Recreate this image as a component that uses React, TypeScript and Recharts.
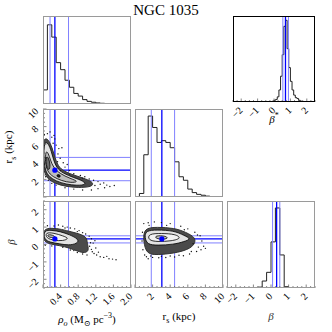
import React from 'react';
import { ComposedChart, Line, Scatter, XAxis, YAxis, ReferenceLine } from 'recharts';

const SERIF = '"Liberation Serif", "DejaVu Serif", serif';
const DARK_BLUE = '#0000ff';
const LIGHT_BLUE = '#8080ff';

// ---------- 1D histograms ----------
const RHO_EDGES = [0, 0.1, 0.2, 0.3, 0.4, 0.5, 0.6, 0.7, 0.8, 0.9, 1.0, 1.1, 1.2, 1.3, 1.4, 1.5, 1.6, 1.7, 1.8, 1.9, 2.0];
const RHO_HIST = [0.16, 0.9, 0.76, 0.47, 0.39, 0.27, 0.19, 0.12, 0.09, 0.05, 0.03, 0.02, 0.012, 0.008, 0.005, 0.003, 0.002, 0.001, 0, 0];
const RS_EDGES = [0, 0.5, 1, 1.5, 2, 2.5, 3, 3.5, 4, 4.5, 5, 5.5, 6, 6.5, 7, 7.5, 8, 8.5, 9, 9.5, 10];
const RS_HIST = [0, 0.04, 0.48, 0.92, 0.79, 0.62, 0.64, 0.62, 0.56, 0.4, 0.23, 0.19, 0.09, 0.05, 0.03, 0.02, 0.01, 0, 0, 0];
const BETA_EDGES = [-2.5, -2.25, -2, -1.75, -1.5, -1.25, -1, -0.75, -0.5, -0.25, 0, 0.25, 0.5, 0.75, 1, 1.25, 1.5, 1.75, 2, 2.25, 2.5];
const BETA_HIST = [0, 0, 0, 0, 0, 0, 0, 0.01, 0.08, 0.18, 0.53, 0.92, 0.38, 0.015, 0, 0, 0, 0, 0, 0];
const BSTAR_EDGES = [-0.1, 0, 0.1, 0.2, 0.3, 0.4, 0.5, 0.6, 0.7, 0.8, 0.9, 1.0, 1.1, 1.2, 1.3, 1.4, 1.5, 1.6, 1.7, 1.8];
const BSTAR_HIST = [0.01, 0.02, 0.03, 0.06, 0.14, 0.3, 0.55, 0.88, 0.95, 0.62, 0.4, 0.24, 0.14, 0.08, 0.05, 0.04, 0.02, 0.01, 0.005];

// quantiles [16%, 50%, 84%]
const RHO_Q = [0.16, 0.27, 0.58];
const RS_Q = [1.85, 3.05, 4.5];
const BETA_Q = [0.09, 0.32, 0.5];
const BSTAR_Q = [0.54, 0.7, 0.88];

// ---------- ticks ----------
const RHO_TICKS = [0, 0.1, 0.2, 0.3, 0.4, 0.5, 0.6, 0.7, 0.8, 0.9, 1.0, 1.1, 1.2, 1.3, 1.4, 1.5, 1.6, 1.7, 1.8, 1.9, 2.0];
const RHO_MAJOR = [0, 0.4, 0.8, 1.2, 1.6, 2.0];
const RHO_LABELS: [number, string][] = [[0.4, '0.4'], [0.8, '0.8'], [1.2, '1.2'], [1.6, '1.6'], [2.0, '2.0']];
const RS_TICKS = [0, 0.5, 1, 1.5, 2, 2.5, 3, 3.5, 4, 4.5, 5, 5.5, 6, 6.5, 7, 7.5, 8, 8.5, 9, 9.5, 10];
const RS_MAJOR = [0, 2, 4, 6, 8, 10];
const RS_LABELS: [number, string][] = [[2, '2'], [4, '4'], [6, '6'], [8, '8'], [10, '10']];
const BETA_TICKS = [-2.5, -2.25, -2, -1.75, -1.5, -1.25, -1, -0.75, -0.5, -0.25, 0, 0.25, 0.5, 0.75, 1, 1.25, 1.5, 1.75, 2, 2.25, 2.5];
const BETA_MAJOR = [-2, -1, 0, 1, 2];
const BETA_LABELS: [number, string][] = [[-2, '\u22122'], [-1, '\u22121'], [0, '0'], [1, '1'], [2, '2']];

// ---------- 2D panels (contours & outlying samples) ----------
const A_HALO: [number, number][] = [[0.02, 6.7], [0.12, 6.6], [0.21, 5.6], [0.27, 4.5], [0.34, 3.5], [0.48, 2.9], [0.72, 2.45], [0.98, 2.05], [1.15, 1.65], [1.12, 1.15], [0.8, 1.05], [0.5, 1.2], [0.27, 1.55], [0.1, 2.05], [0.02, 2.9], [0.0, 4.2], [0.0, 5.6]];
const A_C1: [number, number][] = [[0.04, 6.3], [0.12, 6.1], [0.19, 5.2], [0.24, 4.2], [0.31, 3.3], [0.45, 2.7], [0.7, 2.2], [0.93, 1.8], [0.98, 1.4], [0.78, 1.3], [0.52, 1.45], [0.3, 1.8], [0.14, 2.3], [0.05, 3.0], [0.02, 4.2], [0.02, 5.3]];
const A_C2: [number, number][] = [[0.06, 5.3], [0.12, 5.0], [0.17, 4.2], [0.23, 3.4], [0.38, 2.65], [0.62, 2.1], [0.82, 1.75], [0.64, 1.6], [0.42, 1.85], [0.22, 2.3], [0.1, 2.9], [0.05, 3.9]];
const A_C3: [number, number][] = [[0.08, 4.7], [0.13, 4.4], [0.17, 3.6], [0.14, 3.0], [0.09, 3.3], [0.06, 4.0]];
const A_C4: [number, number][] = [[0.32, 2.6], [0.4, 2.5], [0.39, 2.2], [0.31, 2.3]];
const A_PTS: [number, number][] = [[0.03, 7.1], [0.1, 7.2], [0.16, 7.4], [0.2, 6.8], [0.27, 6.6], [0.3, 5.9], [0.36, 5.5], [0.43, 5.6], [0.34, 4.9], [0.39, 4.4], [0.46, 3.9], [0.5, 3.4], [0.6, 3.0], [0.7, 2.65], [0.85, 2.45], [0.95, 2.3], [1.05, 2.05], [1.15, 1.9], [1.25, 1.75], [1.3, 1.45], [1.38, 1.6], [1.45, 1.35], [1.52, 1.2], [1.62, 1.3], [1.4, 1.05], [1.25, 0.95], [1.1, 0.8], [0.9, 0.8], [0.7, 0.9], [0.5, 1.05], [0.3, 1.35], [0.12, 1.9], [0.55, 3.7], [0.25, 7.0], [0.4, 3.0], [0.6, 2.6], [0.9, 2.15], [1.18, 1.3], [0.2, 1.55], [0.06, 2.3], [0.23, 6.1], [0.33, 4.0]];

const B_HALO: [number, number][] = [[0.0, 0.9], [0.2, 0.95], [0.42, 0.88], [0.65, 0.72], [0.85, 0.6], [1.0, 0.4], [1.0, 0.1], [1.05, -0.35], [0.95, -0.5], [0.8, -0.4], [0.6, -0.2], [0.38, -0.06], [0.15, 0.02], [0.0, 0.2]];
const B_C1: [number, number][] = [[0.02, 0.82], [0.2, 0.82], [0.4, 0.74], [0.6, 0.57], [0.82, 0.3], [0.78, 0.05], [0.58, -0.05], [0.38, 0.04], [0.16, 0.12], [0.02, 0.3]];
const B_C2: [number, number][] = [[0.05, 0.7], [0.25, 0.66], [0.45, 0.5], [0.6, 0.35], [0.45, 0.2], [0.25, 0.24], [0.08, 0.35]];
const B_C3: [number, number][] = [[0.08, 0.58], [0.22, 0.55], [0.3, 0.42], [0.14, 0.38]];
const B_PTS: [number, number][] = [[0.1, 1.08], [0.25, 1.06], [0.35, 1.12], [0.45, 1.05], [0.55, 1.0], [0.62, 0.95], [0.72, 0.9], [0.82, 0.8], [0.9, 0.68], [0.97, 0.6], [1.05, 0.48], [1.1, 0.33], [1.18, 0.22], [1.14, 0.08], [1.06, -0.1], [1.1, -0.28], [1.0, -0.6], [0.9, -0.55], [0.78, -0.46], [0.62, -0.32], [1.16, -0.52], [1.22, -0.6], [1.3, -0.7], [1.38, -0.74], [1.45, -0.68], [1.5, -0.82], [1.58, -0.84], [1.66, -0.88], [1.26, -0.44], [0.05, -0.05], [0.2, -0.08], [0.5, 0.95], [0.78, 0.74], [1.12, -0.42], [0.7, -0.35], [0.45, -0.16], [1.08, 0.1], [1.2, -0.2]];

const C_HALO: [number, number][] = [[1.0, 0.95], [2.5, 1.0], [4.5, 0.95], [5.8, 0.7], [6.9, 0.4], [6.8, 0.0], [6.0, -0.3], [4.5, -0.5], [2.5, -0.6], [1.3, -0.55], [0.95, 0.2]];
const C_C1: [number, number][] = [[1.2, 0.8], [2.5, 0.84], [4.4, 0.8], [5.6, 0.52], [6.4, 0.32], [5.6, 0.17], [4.4, 0.0], [2.5, -0.05], [1.4, 0.0], [1.1, 0.4]];
const C_C2: [number, number][] = [[1.5, 0.62], [3.0, 0.64], [4.6, 0.6], [5.3, 0.36], [4.2, 0.2], [2.5, 0.15], [1.5, 0.25]];
const C_C3: [number, number][] = [[2.2, 0.52], [3.6, 0.5], [3.8, 0.3], [2.4, 0.3]];
const C_PTS: [number, number][] = [[1.0, 1.2], [1.5, 1.25], [2.2, 1.3], [3.0, 1.26], [4.0, 1.2], [5.2, 1.05], [6.0, 0.9], [6.8, 0.7], [7.4, 0.5], [7.6, 0.2], [7.8, -0.1], [7.5, -0.3], [7.0, -0.4], [6.2, -0.55], [5.5, -0.65], [4.5, -0.72], [3.5, -0.75], [2.7, -0.76], [2.0, -0.74], [1.5, -0.82], [1.3, -0.7], [0.9, -0.3], [0.8, 0.2], [0.85, 0.7], [6.6, 0.05], [7.2, -0.15], [3.0, -0.68], [4.0, -0.66], [5.0, -0.62], [1.8, -0.66], [8.0, -0.22], [6.4, -0.4], [1.1, -0.6], [1.6, 1.1], [3.6, 1.1], [5.6, 0.85], [7.1, 0.55]];

// ---------- helpers ----------
const near = (a: number, b: number) => Math.abs(a - b) < 1e-6;
const toXY = (pts: [number, number][]) => pts.map(([x, y]) => ({ x, y }));
const histTable = (edges: number[], vals: number[]) => [
  { x: edges[0], y: 0 },
  ...edges.map((e, i) => ({ x: e, y: i < vals.length ? vals[i] : 0 })),
];

function xTick(majors: number[], labels: [number, string][]) {
  return (p: any) => {
    const v = p.payload.value;
    const x = p.x;
    const y = p.y;
    const isMaj = majors.some((m) => near(m, v));
    const lab = labels.find((l) => near(l[0], v));
    const tx = x + 2;
    const ty = y + 9;
    return (
      <g>
        <line x1={x} x2={x} y1={y} y2={y - (isMaj ? 3.5 : 2)} stroke="#555" strokeWidth={0.7} />
        {lab ? (
          <text x={tx} y={ty} textAnchor="end" transform={`rotate(-45 ${tx} ${ty})`} fontSize={10} fontFamily={SERIF} fill="#000">
            {lab[1]}
          </text>
        ) : null}
      </g>
    );
  };
}

function yTick(majors: number[], labels: [number, string][]) {
  return (p: any) => {
    const v = p.payload.value;
    const x = p.x;
    const y = p.y;
    const isMaj = majors.some((m) => near(m, v));
    const lab = labels.find((l) => near(l[0], v));
    const tx = x - 4;
    const ty = y + 3;
    return (
      <g>
        <line x1={x} x2={x + (isMaj ? 3.5 : 2)} y1={y} y2={y} stroke="#555" strokeWidth={0.7} />
        {lab ? (
          <text x={tx} y={ty} textAnchor="end" transform={`rotate(-45 ${tx} ${ty})`} fontSize={10} fontFamily={SERIF} fill="#000">
            {lab[1]}
          </text>
        ) : null}
      </g>
    );
  };
}

const noShape = () => <g />;
const dotShape = (p: any) => <circle cx={p.cx} cy={p.cy} r={0.7} fill="#111" />;
const medShape = (p: any) => <circle cx={p.cx} cy={p.cy} r={2.6} fill={DARK_BLUE} />;

const contour = (key: string, pts: [number, number][], fill: string, stroke: string, sw: number) => (
  <Scatter
    key={key}
    data={toXY(pts)}
    fill={fill}
    shape={noShape}
    line={{ stroke, strokeWidth: sw, fill }}
    lineJointType="basisClosed"
    isAnimationActive={false}
  />
);

const qLines = (axis: 'x' | 'y', q: number[]) =>
  q.map((v, i) => {
    const props: any = {
      key: `${axis}${i}`,
      stroke: i === 1 ? DARK_BLUE : LIGHT_BLUE,
      strokeWidth: i === 1 ? 1.3 : 1,
    };
    if (axis === 'x') props.x = v;
    else props.y = v;
    return <ReferenceLine {...props} />;
  });

type PanelProps = {
  x: number;
  y: number;
  w: number;
  h: number;
  xd: [number, number];
  yd: [number, number];
  xticks: number[];
  xmaj: number[];
  xlabs: [number, string][];
  yticks?: number[];
  ymaj?: number[];
  ylabs?: [number, string][];
  data?: any[];
  frame: string;
  frameW: number;
  children: React.ReactNode;
};

function Panel(props: PanelProps) {
  const { x, y, w, h, xd, yd, xticks, xmaj, xlabs, yticks, ymaj, ylabs, data, frame, frameW, children } = props;
  const AX = xlabs.length > 0 ? 34 : 0;
  const AY = ylabs && ylabs.length > 0 ? 34 : 0;
  return (
    <div style={{ position: 'absolute', left: x - AY, top: y }}>
      <ComposedChart width={w + AY} height={h + AX} margin={{ top: 0, right: 0, bottom: 0, left: 0 }} data={data}>
        <XAxis
          dataKey="x"
          type="number"
          domain={xd}
          allowDataOverflow
          ticks={xticks}
          interval={0}
          tickSize={0}
          tickMargin={0}
          axisLine={false}
          tickLine={false}
          height={AX}
          tick={xTick(xmaj, xlabs)}
        />
        {yticks ? (
          <YAxis
            dataKey="y"
            type="number"
            domain={yd}
            allowDataOverflow
            ticks={yticks}
            interval={0}
            tickSize={0}
            tickMargin={0}
            axisLine={false}
            tickLine={false}
            width={AY}
            tick={yTick(ymaj || [], ylabs || [])}
          />
        ) : (
          <YAxis dataKey="y" type="number" domain={yd} allowDataOverflow hide />
        )}
        {children}
      </ComposedChart>
      <div
        style={{
          position: 'absolute',
          left: AY,
          top: 0,
          width: w,
          height: h,
          border: `${frameW}px solid ${frame}`,
          boxSizing: 'border-box',
          pointerEvents: 'none',
        }}
      />
    </div>
  );
}

const histLine = (key: string) => (
  <Line key={key} dataKey="y" type="stepAfter" stroke="#222" strokeWidth={1} dot={false} isAnimationActive={false} />
);

const FRAME = '#9a9a9a';
const HALO_FILL = '#4a4a4a';
const HALO_STROKE = '#333';

export default function App() {
  const colX = [43, 135, 227];
  const rowY = [16, 109, 201];
  const S = 88;
  return (
    <div style={{ position: 'absolute', left: 0, top: 0, width: 332, height: 332, background: '#fff', fontFamily: SERIF, overflow: 'hidden' }}>
      <style>{'.recharts-surface{overflow:visible}.recharts-wrapper{overflow:visible}'}</style>
      <div style={{ position: 'absolute', left: 116, top: 3, width: 100, textAlign: 'center', fontSize: 15, lineHeight: '15px' }}>NGC 1035</div>

      {/* rho_0 histogram */}
      <Panel x={colX[0]} y={rowY[0]} w={S} h={S} xd={[0, 2]} yd={[0, 1]} xticks={RHO_TICKS} xmaj={RHO_MAJOR} xlabs={[]} data={histTable(RHO_EDGES, RHO_HIST)} frame={FRAME} frameW={1}>
        {[histLine('h'), ...qLines('x', RHO_Q)]}
      </Panel>

      {/* beta* histogram (inset) */}
      <Panel x={233} y={rowY[0]} w={82} h={86} xd={[-2.5, 2.5]} yd={[0, 1]} xticks={BETA_TICKS} xmaj={BETA_MAJOR} xlabs={BETA_LABELS} data={histTable(BSTAR_EDGES, BSTAR_HIST)} frame="#000" frameW={1.3}>
        {[histLine('h'), ...qLines('x', BSTAR_Q)]}
      </Panel>

      {/* rho_0 vs r_s */}
      <Panel x={colX[0]} y={rowY[1]} w={S} h={S} xd={[0, 2]} yd={[0, 10]} xticks={RHO_TICKS} xmaj={RHO_MAJOR} xlabs={[]} yticks={RS_TICKS} ymaj={RS_MAJOR} ylabs={RS_LABELS} frame={FRAME} frameW={1}>
        {[
          contour('halo', A_HALO, HALO_FILL, HALO_STROKE, 1),
          contour('c1', A_C1, '#e2e2e2', '#000', 0.8),
          contour('c2', A_C2, '#bdbdbd', '#000', 0.8),
          contour('c3', A_C3, '#6e6e6e', '#000', 0.8),
          contour('c4', A_C4, '#222', '#000', 0.8),
          <Scatter key="pts" data={toXY(A_PTS)} shape={dotShape} isAnimationActive={false} />,
          ...qLines('x', RHO_Q),
          ...qLines('y', RS_Q),
          <Scatter key="med" data={[{ x: RHO_Q[1], y: RS_Q[1] }]} shape={medShape} isAnimationActive={false} />,
        ]}
      </Panel>

      {/* r_s histogram */}
      <Panel x={colX[1]} y={rowY[1]} w={S} h={S} xd={[0, 10]} yd={[0, 1]} xticks={RS_TICKS} xmaj={RS_MAJOR} xlabs={[]} data={histTable(RS_EDGES, RS_HIST)} frame={FRAME} frameW={1}>
        {[histLine('h'), ...qLines('x', RS_Q)]}
      </Panel>

      {/* rho_0 vs beta */}
      <Panel x={colX[0]} y={rowY[2]} w={S} h={87} xd={[0, 2]} yd={[-2.5, 2.5]} xticks={RHO_TICKS} xmaj={RHO_MAJOR} xlabs={RHO_LABELS} yticks={BETA_TICKS} ymaj={BETA_MAJOR} ylabs={BETA_LABELS} frame={FRAME} frameW={1}>
        {[
          contour('halo', B_HALO, HALO_FILL, HALO_STROKE, 1),
          contour('c1', B_C1, '#e2e2e2', '#000', 0.8),
          contour('c2', B_C2, '#f2f2f2', '#000', 0.8),
          contour('c3', B_C3, '#bdbdbd', '#000', 0.8),
          <Scatter key="pts" data={toXY(B_PTS)} shape={dotShape} isAnimationActive={false} />,
          ...qLines('x', RHO_Q),
          ...qLines('y', BETA_Q),
          <Scatter key="med" data={[{ x: RHO_Q[1], y: BETA_Q[1] }]} shape={medShape} isAnimationActive={false} />,
        ]}
      </Panel>

      {/* r_s vs beta */}
      <Panel x={colX[1]} y={rowY[2]} w={S} h={87} xd={[0, 10]} yd={[-2.5, 2.5]} xticks={RS_TICKS} xmaj={RS_MAJOR} xlabs={RS_LABELS} yticks={BETA_TICKS} ymaj={BETA_MAJOR} ylabs={[]} frame={FRAME} frameW={1}>
        {[
          contour('halo', C_HALO, HALO_FILL, HALO_STROKE, 1),
          contour('c1', C_C1, '#e2e2e2', '#000', 0.8),
          contour('c2', C_C2, '#f2f2f2', '#000', 0.8),
          contour('c3', C_C3, '#bdbdbd', '#000', 0.8),
          <Scatter key="pts" data={toXY(C_PTS)} shape={dotShape} isAnimationActive={false} />,
          ...qLines('x', RS_Q),
          ...qLines('y', BETA_Q),
          <Scatter key="med" data={[{ x: RS_Q[1], y: BETA_Q[1] }]} shape={medShape} isAnimationActive={false} />,
        ]}
      </Panel>

      {/* beta histogram */}
      <Panel x={colX[2]} y={rowY[2]} w={S} h={87} xd={[-2.5, 2.5]} yd={[0, 1]} xticks={BETA_TICKS} xmaj={BETA_MAJOR} xlabs={BETA_LABELS} data={histTable(BETA_EDGES, BETA_HIST)} frame={FRAME} frameW={1}>
        {[histLine('h'), ...qLines('x', BETA_Q)]}
      </Panel>

      {/* axis labels */}
      <div style={{ position: 'absolute', left: 27, top: 310, width: 120, textAlign: 'center', fontSize: 11, lineHeight: '12px', whiteSpace: 'nowrap' }}>
        <i>ρ</i><sub style={{ fontSize: 8 }}><i>o</i></sub> (M<sub style={{ fontSize: 8 }}>⊙</sub> pc<sup style={{ fontSize: 8 }}>−3</sup>)
      </div>
      <div style={{ position: 'absolute', left: 129, top: 310, width: 100, textAlign: 'center', fontSize: 11, lineHeight: '12px', whiteSpace: 'nowrap' }}>
        r<sub style={{ fontSize: 8 }}>s</sub> (kpc)
      </div>
      <div style={{ position: 'absolute', left: 221, top: 310, width: 100, textAlign: 'center', fontSize: 11, lineHeight: '12px', fontStyle: 'italic', color: '#333' }}>β</div>
      <div style={{ position: 'absolute', left: 224, top: 110, width: 100, textAlign: 'center', fontSize: 11, lineHeight: '12px', whiteSpace: 'nowrap' }}>
        <i>β</i><sup style={{ fontSize: 8 }}>*</sup>
      </div>
      <div style={{ position: 'absolute', left: 11, top: 147, transform: 'translate(-50%, -50%) rotate(-90deg)', fontSize: 11, lineHeight: '12px', whiteSpace: 'nowrap' }}>
        r<sub style={{ fontSize: 8 }}>s</sub> (kpc)
      </div>
      <div style={{ position: 'absolute', left: 11, top: 242, transform: 'translate(-50%, -50%) rotate(-90deg)', fontSize: 11, lineHeight: '12px', fontStyle: 'italic', color: '#333' }}>β</div>
    </div>
  );
}
